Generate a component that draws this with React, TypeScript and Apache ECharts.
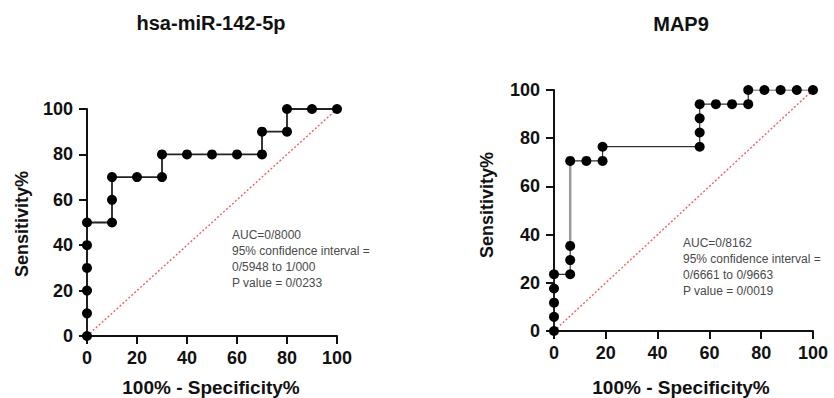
import React, { useEffect, useRef } from "react";
import * as echarts from "echarts";

// Left panel: hsa-miR-142-5p ROC points [100% - Specificity%, Sensitivity%]
const mirX = [0, 0, 0, 0, 0, 0, 10, 10, 10, 20, 30, 30, 40, 50, 60, 70, 70, 80, 80, 90, 100];
const mirY = [0, 10, 20, 30, 40, 50, 50, 60, 70, 70, 70, 80, 80, 80, 80, 80, 90, 90, 100, 100, 100];

// Right panel: MAP9 ROC points
const mapX = [0, 0, 0, 0, 0, 6.25, 6.25, 6.25, 6.25, 12.5, 18.75, 18.75, 56.25, 56.25, 56.25, 56.25, 62.5, 68.75, 75, 75, 81.25, 87.5, 93.75, 100];
const mapY = [0, 5.88, 11.76, 17.65, 23.53, 23.53, 29.41, 35.29, 70.59, 70.59, 70.59, 76.47, 76.47, 82.35, 88.24, 94.12, 94.12, 94.12, 94.12, 100, 100, 100, 100, 100];

// the MAP9 curve is drawn in a lighter grey between these two points
const mapGreyFrom = 7;
const mapGreyTo = 8;

const diagX = [0, 100];
const diagY = [0, 100];

const tickValues = [0, 20, 40, 60, 80, 100];

const titles = ["hsa-miR-142-5p", "MAP9"];
const xTitle = "100% - Specificity%";
const yTitle = "Sensitivity%";

const mirStats = ["AUC=0/8000", "95% confidence interval =", "0/5948 to 1/000", "P value = 0/0233"];
const mapStats = ["AUC=0/8162", "95% confidence interval =", "0/6661 to 0/9663", "P value = 0/0019"];

const zip = (xs: number[], ys: number[]) => xs.map((x, i) => [x, ys[i]]);

const FONT = "'Liberation Sans', Arial, sans-serif";

function axisCommon(isX: boolean) {
  return {
    type: "value" as const,
    min: tickValues[0],
    max: tickValues[tickValues.length - 1],
    interval: 20,
    axisLine: { show: true, onZero: false, lineStyle: { color: "#111", width: 2 } },
    axisTick: { show: true, inside: false, length: 8, lineStyle: { color: "#111", width: 2 } },
    splitLine: { show: false },
    axisLabel: {
      show: true,
      fontSize: 18,
      fontWeight: "bold" as const,
      fontFamily: FONT,
      color: "#111",
      margin: isX ? 13 : 14,
    },
  };
}

export default function App() {
  const ref = useRef<HTMLDivElement>(null);

  useEffect(() => {
    if (!ref.current) return;
    const chart = echarts.init(ref.current, undefined, { renderer: "svg" });

    const mapData = zip(mapX, mapY);
    const mapLower = mapData.slice(0, mapGreyFrom + 1);
    const mapUpper = mapData.slice(mapGreyTo);
    const greyData = [mapData[mapGreyFrom], mapData[mapGreyTo]];

    const statText = (lines: string[], x: number, y: number) => ({
      type: "text",
      left: x,
      top: y,
      style: {
        text: lines.join("\n"),
        fontSize: 12,
        lineHeight: 16,
        fontFamily: FONT,
        fill: "#4a4a4a",
      },
    });

    const centerText = (text: string, x: number, y: number, size: number, rot = 0) => ({
      type: "text",
      x,
      y,
      rotation: rot,
      style: {
        text,
        fontSize: size,
        fontWeight: "bold",
        fontFamily: FONT,
        fill: "#111",
        align: "center",
        verticalAlign: "middle",
      },
    });

    const diag = (idx: number) => ({
      type: "line",
      xAxisIndex: idx,
      yAxisIndex: idx,
      data: zip(diagX, diagY),
      symbol: "none",
      lineStyle: { color: "#f06060", width: 1.4, type: [2, 2] },
      z: 1,
    });

    const curve = (idx: number, data: number[][], color: string, width: number) => ({
      type: "line",
      xAxisIndex: idx,
      yAxisIndex: idx,
      data,
      symbol: "circle",
      symbolSize: 10,
      itemStyle: { color: "#000" },
      lineStyle: { color, width },
      z: 3,
    });

    chart.setOption({
      animation: false,
      backgroundColor: "#fff",
      grid: [
        { left: 87, top: 109, width: 250, height: 227 },
        { left: 554, top: 90, width: 259, height: 241 },
      ],
      xAxis: [
        { ...axisCommon(true), gridIndex: 0 },
        { ...axisCommon(true), gridIndex: 1 },
      ],
      yAxis: [
        { ...axisCommon(false), gridIndex: 0 },
        { ...axisCommon(false), gridIndex: 1 },
      ],
      series: [
        diag(0),
        diag(1),
        curve(0, zip(mirX, mirY), "#222", 1.8),
        {
          type: "line",
          xAxisIndex: 1,
          yAxisIndex: 1,
          data: greyData,
          symbol: "none",
          lineStyle: { color: "#9a9a9a", width: 2.5 },
          z: 2,
        },
        curve(1, mapLower, "#333", 1.2),
        curve(1, mapUpper, "#333", 1.2),
      ],
      graphic: [
        centerText(titles[0], 211, 23, 20),
        centerText(titles[1], 681, 24, 20),
        centerText(xTitle, 211, 387, 19),
        centerText(xTitle, 681, 387, 19),
        centerText(yTitle, 22, 224, 18, Math.PI / 2),
        centerText(yTitle, 487, 205, 18, Math.PI / 2),
        statText(mirStats, 232, 227),
        statText(mapStats, 683, 235),
      ],
    });

    return () => chart.dispose();
  }, []);

  return (
    <div
      ref={ref}
      style={{ position: "absolute", left: 0, top: 0, width: 834, height: 398 }}
    />
  );
}
